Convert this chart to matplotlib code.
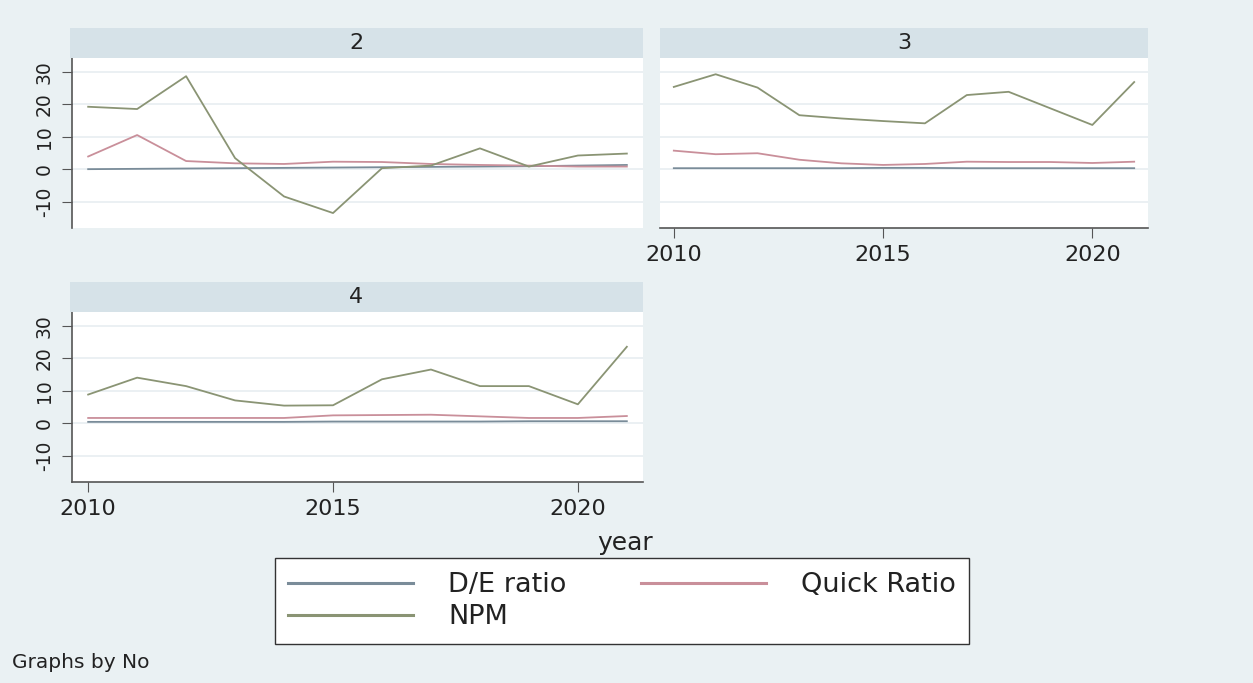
import matplotlib.pyplot as plt
from matplotlib.lines import Line2D

plt.rcParams['font.family'] = ['DejaVu Sans']
plt.rcParams['axes.unicode_minus'] = False

years = list(range(2010, 2022))

# firm 2
de_2 = [0.1, 0.2, 0.3, 0.4, 0.5, 0.6, 0.7, 0.8, 0.9, 1.0, 1.2, 1.4]
quick_2 = [4.0, 10.6, 2.6, 1.9, 1.7, 2.4, 2.3, 1.7, 1.4, 1.2, 0.9, 0.9]
npm_2 = [19.3, 18.6, 28.7, 3.5, -8.3, -13.4, 0.4, 1.2, 6.5, 0.9, 4.3, 4.9]

# firm 3
de_3 = [0.4, 0.4, 0.4, 0.4, 0.4, 0.5, 0.5, 0.4, 0.4, 0.4, 0.4, 0.4]
quick_3 = [5.8, 4.7, 5.0, 3.0, 1.9, 1.4, 1.7, 2.4, 2.3, 2.3, 2.0, 2.4]
npm_3 = [25.4, 29.3, 25.2, 16.7, 15.7, 14.9, 14.2, 22.9, 23.9, 18.8, 13.7, 26.9]

# firm 4
de_4 = [0.5, 0.5, 0.5, 0.5, 0.5, 0.6, 0.6, 0.6, 0.6, 0.7, 0.7, 0.7]
quick_4 = [1.7, 1.7, 1.7, 1.7, 1.7, 2.5, 2.6, 2.7, 2.2, 1.7, 1.7, 2.3]
npm_4 = [8.9, 14.1, 11.5, 7.1, 5.5, 5.6, 13.6, 16.6, 11.5, 11.5, 5.9, 23.6]

series_names = ['D/E ratio', 'Quick Ratio', 'NPM']
colors = ['#7a8c99', '#c98f9a', '#8a9474']

bg = '#eaf1f3'
strip = '#d6e2e8'
grid = '#e8eef1'
axcol = '#555555'
txt = '#222222'

W, H = 1253, 683
fig = plt.figure(figsize=(W / 100, H / 100), dpi=100, facecolor=bg)


def box(x0, y0, x1, y1):
    return [x0 / W, 1 - y1 / H, (x1 - x0) / W, (y1 - y0) / H]


def panel(rect, strip_rect, title, data, show_y, show_x):
    ax = fig.add_axes(rect)
    ax.set_facecolor('white')
    for vals, c in zip(data, colors):
        ax.plot(years, vals, color=c, lw=1.3)
    ax.set_xlim(2009.67, 2021.33)
    ax.set_ylim(-18, 34.3)
    ax.set_yticks([-10, 0, 10, 20, 30])
    ax.set_xticks([2010, 2015, 2020])
    ax.grid(axis='y', color=grid, lw=1.2)
    ax.set_axisbelow(True)
    for s in ['top', 'right']:
        ax.spines[s].set_visible(False)
    ax.spines['left'].set_visible(show_y)
    ax.spines['bottom'].set_visible(show_x)
    for s in ['left', 'bottom']:
        ax.spines[s].set_color(axcol)
        ax.spines[s].set_linewidth(1.2)
    ax.tick_params(axis='y', left=show_y, labelleft=show_y, length=7,
                   color=axcol, labelsize=13.5, labelrotation=90, pad=6,
                   labelcolor=txt)
    ax.tick_params(axis='x', bottom=show_x, labelbottom=show_x, length=7,
                   color=axcol, labelsize=16, pad=5, labelcolor=txt)
    for lab in ax.get_yticklabels():
        lab.set_va('center')
    sax = fig.add_axes(strip_rect)
    sax.set_facecolor(strip)
    sax.set_xticks([])
    sax.set_yticks([])
    for s in sax.spines.values():
        s.set_visible(False)
    sax.text(0.5, 0.5, title, ha='center', va='center', fontsize=16,
             transform=sax.transAxes, color=txt)
    return ax


panel(box(72, 58, 643, 228), box(70, 28, 643, 58), '2',
      [de_2, quick_2, npm_2], True, False)
panel(box(660, 58, 1148, 228), box(660, 28, 1148, 58), '3',
      [de_3, quick_3, npm_3], False, True)
panel(box(72, 312, 643, 482), box(70, 282, 643, 312), '4',
      [de_4, quick_4, npm_4], True, True)

fig.text(625 / W, 1 - 543 / H, 'year', ha='center', va='center',
         fontsize=18, color=txt)

handles = [Line2D([], [], color=c, lw=2.2) for c in colors]
order = [0, 2, 1]
leg = fig.legend([handles[i] for i in order], [series_names[i] for i in order],
                 ncol=2, loc='center',
                 bbox_to_anchor=(622 / W, 1 - 601 / H),
                 fontsize=19.5, handlelength=4.6, handletextpad=1.3,
                 columnspacing=2.75, labelspacing=0.22,
                 frameon=True, fancybox=False, edgecolor='#333333',
                 facecolor='white', framealpha=1, borderpad=0.5)
leg.get_frame().set_linewidth(1.0)
for t in leg.get_texts():
    t.set_color(txt)

fig.text(12 / W, 1 - 662 / H, 'Graphs by No', ha='left', va='center',
         fontsize=14.5, color=txt)

fig.savefig('out.png', dpi=100, facecolor=bg)
